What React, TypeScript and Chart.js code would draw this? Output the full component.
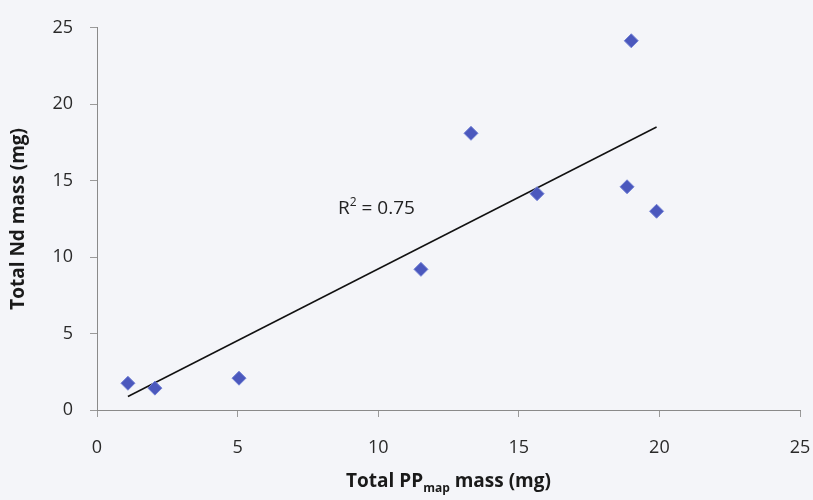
import React, { useEffect, useRef } from "react";
import { Chart, registerables } from "chart.js";

Chart.register(...registerables);

// Total PP(map) mass vs total Nd mass, one point per sample (mg)
const ppMass = [1.1, 2.06, 5.05, 11.52, 13.3, 15.65, 18.85, 19.0, 19.9];
const ndMass = [1.75, 1.43, 2.08, 9.2, 18.1, 14.15, 14.6, 24.15, 13.0];

const axisMin = 0;
const axisMax = 25;
const axisStep = 5;

const xTitleMain = "Total PP";
const xTitleSub = "map";
const xTitleRest = " mass (mg)";
const yTitle = "Total Nd mass (mg)";
const rSquaredLabel = "0.75";
const rSquaredAt = { x: 8.57, y: 12.8 };

const FONT = "'Open Sans', 'Noto Sans', sans-serif";

// least-squares trendline through the samples
function linearFit(xs: number[], ys: number[]) {
  const n = xs.length;
  const mx = xs.reduce((a, b) => a + b, 0) / n;
  const my = ys.reduce((a, b) => a + b, 0) / n;
  let sxy = 0;
  let sxx = 0;
  for (let i = 0; i < n; i++) {
    sxy += (xs[i] - mx) * (ys[i] - my);
    sxx += (xs[i] - mx) * (xs[i] - mx);
  }
  const slope = sxy / sxx;
  return { slope, intercept: my - slope * mx };
}

const labelsPlugin = {
  id: "axisLabels",
  afterDraw(chart: any) {
    const { ctx, chartArea, scales } = chart;
    ctx.save();
    ctx.fillStyle = "#1a1a1a";

    // y axis title, rotated
    ctx.font = `bold 19px ${FONT}`;
    ctx.textAlign = "center";
    ctx.textBaseline = "middle";
    ctx.translate(19, (chartArea.top + chartArea.bottom) / 2);
    ctx.rotate(-Math.PI / 2);
    ctx.fillText(yTitle, 0, 0);
    ctx.setTransform(1, 0, 0, 1, 0, 0);

    // x axis title with subscript
    const baseY = 487;
    ctx.textBaseline = "alphabetic";
    ctx.textAlign = "left";
    const mainFont = `bold 19px ${FONT}`;
    const subFont = `bold 12px ${FONT}`;
    ctx.font = mainFont;
    const w1 = ctx.measureText(xTitleMain).width;
    const w3 = ctx.measureText(xTitleRest).width;
    ctx.font = subFont;
    const w2 = ctx.measureText(xTitleSub).width;
    const total = w1 + w2 + w3;
    let x = (chartArea.left + chartArea.right) / 2 - total / 2;
    ctx.font = mainFont;
    ctx.fillText(xTitleMain, x, baseY);
    x += w1;
    ctx.font = subFont;
    ctx.fillText(xTitleSub, x, baseY + 5);
    x += w2;
    ctx.font = mainFont;
    ctx.fillText(xTitleRest, x, baseY);

    // R² annotation
    const rx = scales.x.getPixelForValue(rSquaredAt.x);
    const ry = scales.y.getPixelForValue(rSquaredAt.y);
    ctx.fillStyle = "#222";
    ctx.font = `19px ${FONT}`;
    ctx.fillText("R", rx, ry);
    let px = rx + ctx.measureText("R").width;
    ctx.font = `12px ${FONT}`;
    ctx.fillText("2", px, ry - 8);
    px += ctx.measureText("2").width;
    ctx.font = `19px ${FONT}`;
    ctx.fillText(" = " + rSquaredLabel, px, ry);

    ctx.restore();
  },
};

export default function App() {
  const canvasRef = useRef<HTMLCanvasElement | null>(null);

  useEffect(() => {
    if (!canvasRef.current) return;
    const fit = linearFit(ppMass, ndMass);
    const xLo = Math.min(...ppMass);
    const xHi = Math.max(...ppMass);
    const points = ppMass.map((x, i) => ({ x, y: ndMass[i] }));

    const chart = new Chart(canvasRef.current, {
      type: "scatter",
      data: {
        datasets: [
          {
            type: "line",
            data: [
              { x: xLo, y: fit.intercept + fit.slope * xLo },
              { x: xHi, y: fit.intercept + fit.slope * xHi },
            ],
            borderColor: "#111",
            borderWidth: 1.5,
            pointRadius: 0,
            fill: false,
            order: 2,
          } as any,
          {
            data: points,
            pointStyle: "rectRot",
            pointRadius: 7,
            backgroundColor: "#4b58bd",
            borderColor: "#7180d4",
            borderWidth: 1,
            order: 1,
          },
        ],
      },
      options: {
        animation: false,
        responsive: true,
        maintainAspectRatio: false,
        layout: { padding: { top: 25, right: 13, left: 0, bottom: 0 } },
        plugins: {
          legend: { display: false },
          tooltip: { enabled: false },
        },
        scales: {
          x: {
            type: "linear",
            min: axisMin,
            max: axisMax,
            ticks: {
              stepSize: axisStep,
              color: "#2a2a2a",
              font: { family: FONT, size: 18 },
              padding: 20,
            },
            grid: { drawOnChartArea: false, tickLength: 7, color: "#9a9a9a" },
            border: { color: "#8a8a8a", width: 1 },
            afterFit: (s: any) => {
              s.height = 90;
              s.paddingLeft = 0;
              s.paddingRight = 0;
            },
          },
          y: {
            type: "linear",
            min: axisMin,
            max: axisMax,
            ticks: {
              stepSize: axisStep,
              color: "#2a2a2a",
              font: { family: FONT, size: 18 },
              padding: 17,
            },
            grid: { drawOnChartArea: false, tickLength: 7, color: "#9a9a9a" },
            border: { color: "#8a8a8a", width: 1 },
            afterFit: (s: any) => {
              s.width = 97;
            },
          },
        },
      },
      plugins: [labelsPlugin],
    });
    return () => chart.destroy();
  }, []);

  return (
    <div
      style={{
        position: "fixed",
        left: 0,
        top: 0,
        width: 813,
        height: 500,
        background: "#f4f5f9",
      }}
    >
      <canvas ref={canvasRef} />
    </div>
  );
}
